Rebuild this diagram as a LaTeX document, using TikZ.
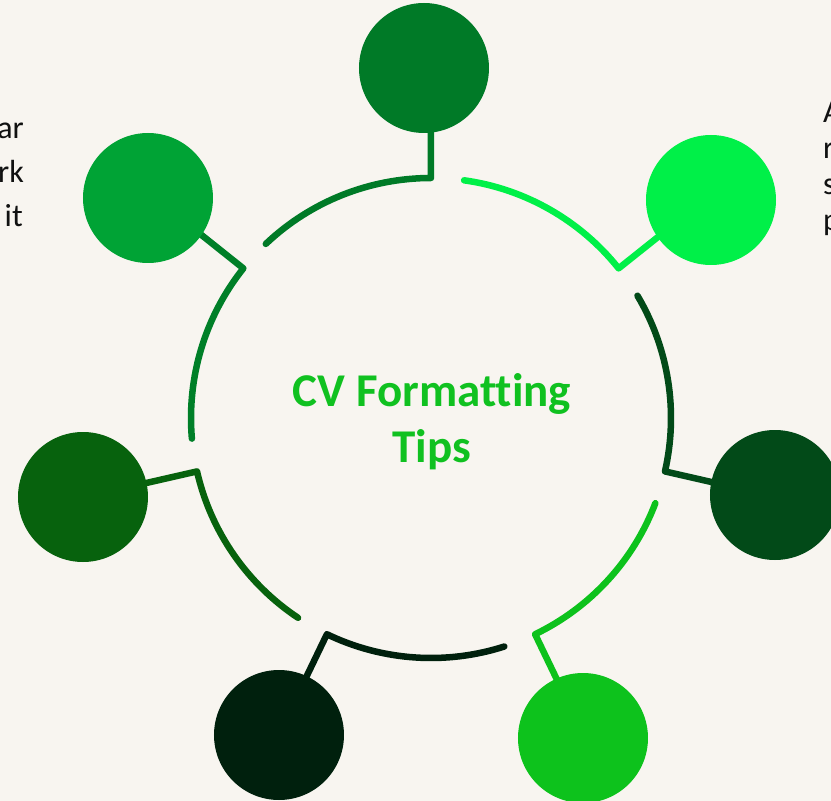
\documentclass[tikz,border=0pt]{standalone}
\usepackage{fontspec}
\setmainfont[Ligatures=NoCommon]{Carlito}
\definecolor{bgcol}{HTML}{F8F5F0}
\definecolor{cA}{HTML}{007A27}
\definecolor{cB}{HTML}{00F048}
\definecolor{cC}{HTML}{024A18}
\definecolor{cD}{HTML}{0DC21C}
\definecolor{cE}{HTML}{00200D}
\definecolor{cF}{HTML}{07620D}
\definecolor{cG}{HTML}{00A335}
\definecolor{cGline}{HTML}{007F28}
\definecolor{titlecol}{HTML}{10C120}
\definecolor{sidecol}{HTML}{111111}
\tikzset{
  ringline/.style={line width=6.5pt, line cap=round, line join=round},
  bubble/.style={circle, minimum size=130pt, inner sep=0pt, fill=#1},
  titletext/.style={font=\bfseries\fontsize{47}{56}\selectfont, text=titlecol, anchor=base, inner sep=0pt},
  sidetext/.style={font=\fontsize{32}{36}\selectfont, text=sidecol, inner sep=0pt},
}
\begin{document}
\begin{tikzpicture}[x=1pt,y=1pt]
  % page frame, ring centre at the origin
  \fill[bgcol] (-431,-383) rectangle (400,418);
  \useasboundingbox (-431,-383) rectangle (400,418);

  % seven ring segments: each starts at a corner, runs 43.5 degrees
  % counter-clockwise and is tied to its bubble by a radial stub
  \foreach \i/\ang/\lc/\bx/\by in {1/90/cA/-7/350, 2/141.43/cGline/-283/220,
      3/192.86/cF/-348/-79, 4/244.29/cE/-152/-317, 5/295.71/cD/152/-320,
      6/347.14/cC/344/-77, 7/38.57/cB/280/218}{
    \coordinate (corner\i) at (\ang:240);
    \coordinate (tip\i) at (\ang+43.5:240);
    \coordinate (stub\i) at (\ang:300);
    \coordinate (bub\i) at (\bx,\by);
    \draw[ringline, draw=\lc] (tip\i) arc[start angle=\ang+43.5, end angle=\ang, radius=240pt]
      -- (stub\i);
  }
  % bubbles on top, hiding the ends of the stubs
  \foreach \i/\bc in {1/cA, 2/cG, 3/cF, 4/cE, 5/cD, 6/cC, 7/cB}{
    \node[bubble=\bc] (ball\i) at (bub\i) {};
  }

  % title
  \node[titletext] (title1) at (1,12) {CV Formatting};
  \node[titletext] (title2) at (1,-44) {Tips};

  % side text running off the page edges
  \node[sidetext, anchor=base east] (l1) at (-407,279) {ar};
  \node[sidetext, anchor=base east] (l2) at (-407,235) {rk};
  \node[sidetext, anchor=base east] (l3) at (-408,191) {it};
  \node[sidetext, anchor=base west] (r1) at (392,295) {A};
  \node[sidetext, anchor=base west] (r2) at (392,259) {r};
  \node[sidetext, anchor=base west] (r3) at (392,223) {s};
  \node[sidetext, anchor=base west] (r4) at (392,187) {p};
\end{tikzpicture}
\end{document}
